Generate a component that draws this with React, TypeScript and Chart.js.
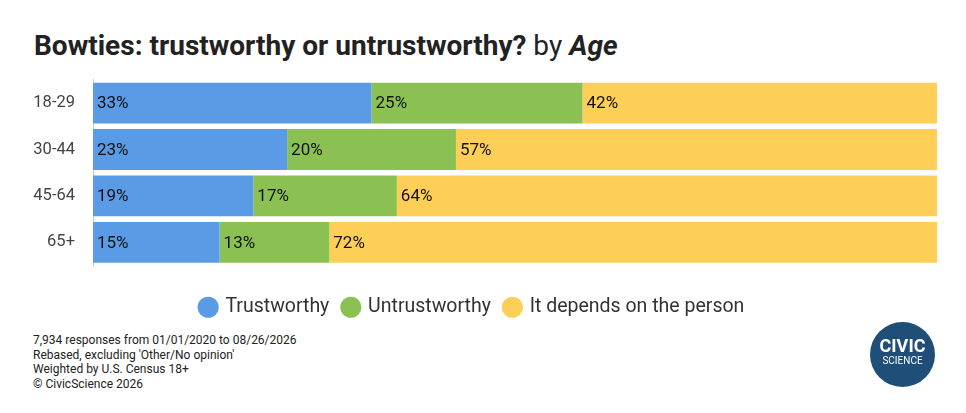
import React, { useEffect, useRef } from "react";
import { Chart, registerables } from "chart.js";
Chart.register(...registerables);

const categories = ["18-29", "30-44", "45-64", "65+"];
const trustworthy = [33, 23, 19, 15];
const untrustworthy = [25, 20, 17, 13];
const depends = [42, 57, 64, 72];
const seriesNames = ["Trustworthy", "Untrustworthy", "It depends on the person"];
const colors = ["#5a9be6", "#8bc152", "#fecf56"];

const labelPlugin = {
  id: "barLabels",
  afterDatasetsDraw(chart: any) {
    const ctx = chart.ctx;
    ctx.save();
    ctx.font = "17px Roboto";
    ctx.fillStyle = "#111";
    ctx.textBaseline = "middle";
    chart.data.datasets.forEach((ds: any, i: number) => {
      chart.getDatasetMeta(i).data.forEach((el: any, j: number) => {
        const left = Math.min(el.x, el.base);
        ctx.fillText(ds.data[j] + "%", left + 4, el.y + 1);
      });
    });
    ctx.restore();
  },
};

export default function App() {
  const ref = useRef<HTMLCanvasElement>(null);
  useEffect(() => {
    const data = [trustworthy, untrustworthy, depends];
    const chart = new Chart(ref.current!, {
      type: "bar",
      data: {
        labels: categories,
        datasets: data.map((d, i) => ({
          label: seriesNames[i],
          data: d,
          backgroundColor: colors[i],
          barPercentage: 0.88,
          categoryPercentage: 1,
        })),
      },
      options: {
        indexAxis: "y",
        animation: false,
        responsive: false,
        maintainAspectRatio: false,
        layout: { padding: { top: 2, right: 13, bottom: 0 } },
        scales: {
          x: {
            stacked: true,
            max: 100,
            grid: { display: false },
            border: { display: false },
            ticks: { display: false },
            afterFit: (s: any) => { s.height = 18; },
          },
          y: {
            stacked: true,
            grid: { display: false },
            border: { color: "#ccc" },
            ticks: { color: "#444", font: { size: 16.5, family: "Roboto" }, padding: 10 },
            afterFit: (s: any) => { s.width = 85; },
          },
        },
        plugins: {
          tooltip: { enabled: false },
          legend: {
            position: "bottom",
            labels: {
              usePointStyle: true,
              pointStyle: "circle",
              boxWidth: 15,
              boxHeight: 15,
              padding: 14,
              color: "#333",
              font: { size: 19.5, family: "Roboto" },
            },
          },
        },
      },
      plugins: [labelPlugin],
    });
    return () => chart.destroy();
  }, []);
  return (
    <div style={{ position: "relative", width: 950, height: 397, fontFamily: "Roboto" }}>
      <div style={{ position: "absolute", left: 26, top: 21, fontSize: 28, color: "#222" }}>
        <b>Bowties: trustworthy or untrustworthy?</b> by <b><i>Age</i></b>
      </div>
      <canvas ref={ref} width={942} height={267} style={{ position: "absolute", left: 0, top: 52 }} />
      <div style={{ position: "absolute", left: 25, top: 325, fontSize: 12, lineHeight: "14.5px", color: "#222" }}>
        7,934 responses from 01/01/2020 to 08/26/2026<br />
        Rebased, excluding 'Other/No opinion'<br />
        Weighted by U.S. Census 18+<br />
        © CivicScience 2026
      </div>
      <div style={{ position: "absolute", left: 862, top: 314, width: 65, height: 65, borderRadius: 33, background: "#1f4e79", color: "#fff", textAlign: "center" }}>
        <div style={{ fontSize: 18, fontWeight: 700, marginTop: 15, lineHeight: "18px" }}>CIVIC</div>
        <div style={{ fontSize: 10, lineHeight: "12px" }}>SCIENCE</div>
      </div>
    </div>
  );
}
